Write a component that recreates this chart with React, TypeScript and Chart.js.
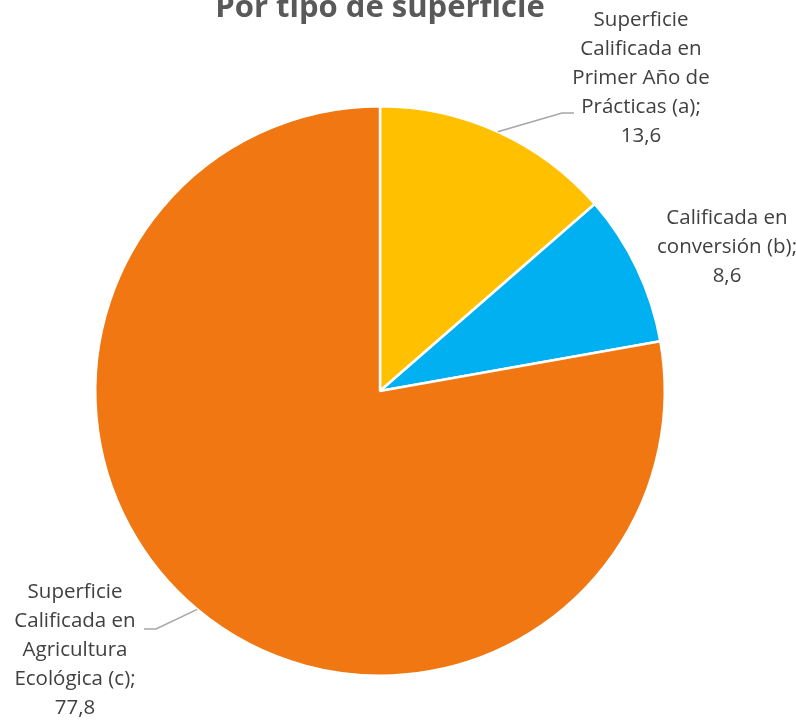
import React, { useEffect, useRef } from "react";
import { Chart, registerables } from "chart.js";

Chart.register(...registerables);

const titleText = "Por tipo de superficie";
const categories = [
  "Superficie Calificada en Primer Año de Prácticas (a)",
  "Calificada en conversión (b)",
  "Superficie Calificada en Agricultura Ecológica (c)",
];
const values = [13.6, 8.6, 77.8];
const valueLabels = ["13,6", "8,6", "77,8"];
const labelLines = [
  ["Superficie", "Calificada en", "Primer Año de", "Prácticas (a);", valueLabels[0]],
  ["Calificada en", "conversión (b);", valueLabels[1]],
  ["Superficie", "Calificada en", "Agricultura", "Ecológica (c);", valueLabels[2]],
];
const colors = ["#FFC000", "#00B0F0", "#F07711"];

const FONT = "'Open Sans', sans-serif";

const labelPlugin = {
  id: "outLabels",
  afterDraw(chart: any) {
    const ctx = chart.ctx as CanvasRenderingContext2D;
    const meta = chart.getDatasetMeta(0);
    const arcs = meta.data;
    ctx.save();
    // title
    ctx.fillStyle = "#595959";
    ctx.font = `bold 31px ${FONT}`;
    ctx.textAlign = "center";
    ctx.textBaseline = "alphabetic";
    ctx.fillText(titleText, 380, 17);

    const a0: any = arcs[0];
    const cx = a0.x, cy = a0.y, r = a0.outerRadius;
    const anchors = [
      { x: cx + 261, y: cy - 313 },
      { x: cx + 347, y: cy - 144 },
      { x: cx - 305, y: cy + 259 },
    ];
    const lineH = 29;
    ctx.font = `20.5px ${FONT}`;
    ctx.fillStyle = "#404040";
    ctx.textBaseline = "middle";
    labelLines.forEach((lines, i) => {
      const an = anchors[i];
      const top = an.y - ((lines.length - 1) * lineH) / 2;
      lines.forEach((t, k) => ctx.fillText(t, an.x, top + k * lineH));
    });

    // leader lines
    ctx.strokeStyle = "#A6A6A6";
    ctx.lineWidth = 1.5;
    const onEdge = (dx: number, dy: number) => {
      const ang = Math.atan2(dy, dx);
      return { x: cx + Math.cos(ang) * r, y: cy + Math.sin(ang) * r };
    };
    let p = onEdge(119, -262);
    ctx.beginPath();
    ctx.moveTo(p.x, p.y);
    ctx.lineTo(cx + 182, cy - 278);
    ctx.lineTo(cx + 194, cy - 278);
    ctx.stroke();
    p = onEdge(-185, 221);
    ctx.beginPath();
    ctx.moveTo(p.x, p.y);
    ctx.lineTo(cx - 224, cy + 238);
    ctx.lineTo(cx - 236, cy + 238);
    ctx.stroke();
    ctx.restore();
  },
};

export default function App() {
  const ref = useRef<HTMLCanvasElement>(null);
  useEffect(() => {
    const chart = new Chart(ref.current!, {
      type: "pie",
      data: {
        labels: categories,
        datasets: [
          {
            data: values,
            backgroundColor: colors,
            borderColor: "#FFFFFF",
            borderWidth: 2.5,
          },
        ],
      },
      options: {
        responsive: false,
        animation: false,
        layout: { padding: { left: 94, right: 130, top: 105, bottom: 47 } },
        plugins: {
          legend: { display: false },
          tooltip: { enabled: false },
          title: { display: false },
        },
      },
      plugins: [labelPlugin],
    });
    return () => chart.destroy();
  }, []);
  return (
    <div style={{ position: "absolute", left: 0, top: 0, width: 796, height: 724, background: "#fff" }}>
      <canvas ref={ref} width={796} height={724} />
    </div>
  );
}
